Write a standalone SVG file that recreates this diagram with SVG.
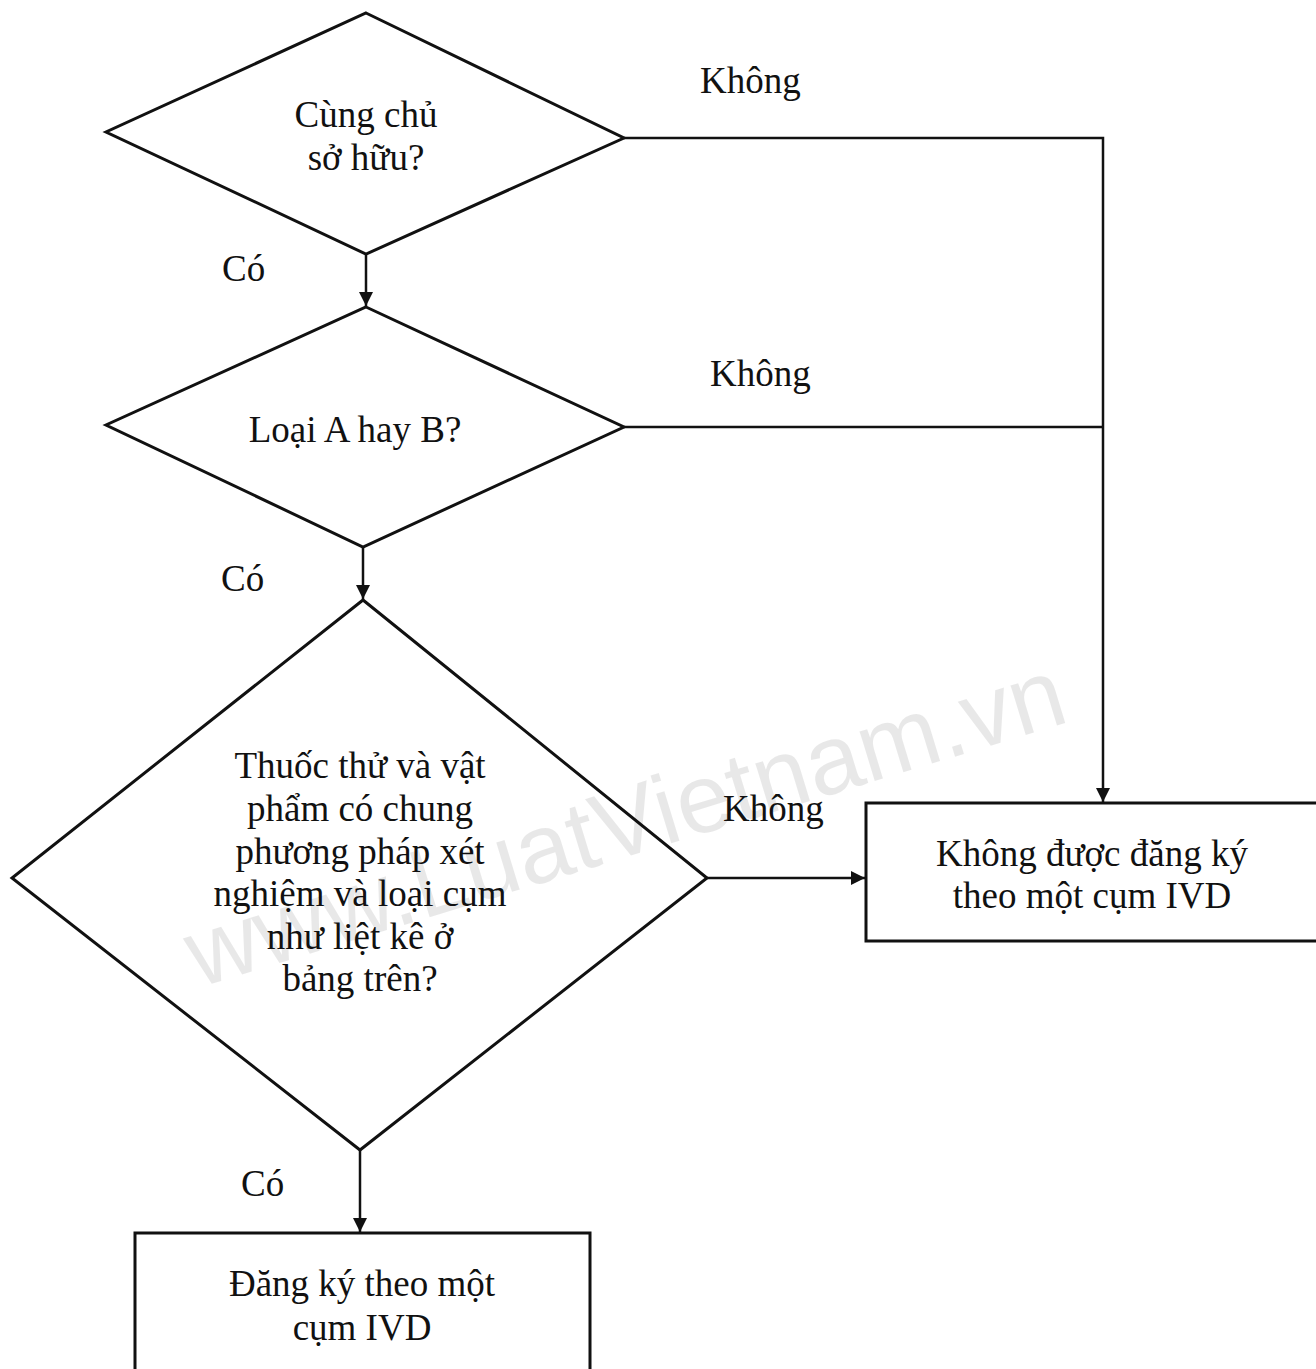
<svg xmlns="http://www.w3.org/2000/svg" width="1316" height="1369" viewBox="0 0 1316 1369">
<defs>
<style>
.shape{fill:none;stroke:#111;stroke-width:3}
.conn{fill:none;stroke:#111;stroke-width:2.5}
.t{font-family:"Liberation Serif","Times New Roman",serif;font-size:37px;fill:#111;text-anchor:middle}
.lbl{font-family:"Liberation Serif","Times New Roman",serif;font-size:37px;fill:#111}
.wm{font-family:"Liberation Sans",Arial,sans-serif;font-size:98px;fill:#000;fill-opacity:0.09}
</style>
<marker id="arrh" viewBox="0 0 10 10" refX="10" refY="5" markerWidth="18" markerHeight="14" markerUnits="userSpaceOnUse" orient="auto">
<path d="M0,0 L10,5 L0,10 z" fill="#111"/>
</marker>
</defs>
<rect width="1316" height="1369" fill="#fff"/>
<text class="wm" transform="translate(198,988) rotate(-17)">www.LuatVietnam.vn</text>
<g id="connectors">
<line class="conn" x1="366" y1="254" x2="366" y2="306" marker-end="url(#arrh)"/>
<line class="conn" x1="363" y1="547" x2="363" y2="599" marker-end="url(#arrh)"/>
<line class="conn" x1="360" y1="1150" x2="360" y2="1232" marker-end="url(#arrh)"/>
<polyline class="conn" points="624,138 1103,138 1103,802" marker-end="url(#arrh)"/>
<line class="conn" x1="624" y1="427" x2="1103" y2="427"/>
<line class="conn" x1="707" y1="878" x2="865" y2="878" marker-end="url(#arrh)"/>
</g>
<g id="labels">
<text class="lbl" x="700" y="93">Không</text>
<text class="lbl" x="710" y="386">Không</text>
<text class="lbl" x="723" y="821">Không</text>
<text class="lbl" x="222" y="281">Có</text>
<text class="lbl" x="221" y="591">Có</text>
<text class="lbl" x="241" y="1196">Có</text>
</g>
<g id="d1">
<polygon class="shape" points="366,13 624,138 366,254 106,132"/>
<text class="t" x="366" y="127">Cùng chủ</text>
<text class="t" x="366" y="170">sở hữu?</text>
</g>
<g id="d2">
<polygon class="shape" points="366,307 624,427 363,547 106,425"/>
<text class="t" x="355" y="442">Loại A hay B?</text>
</g>
<g id="d3">
<polygon class="shape" points="363,600 707,878 360,1150 12,878"/>
<text class="t" x="360" y="778">Thuốc thử và vật</text>
<text class="t" x="360" y="821">phẩm có chung</text>
<text class="t" x="360" y="864">phương pháp xét</text>
<text class="t" x="360" y="906">nghiệm và loại cụm</text>
<text class="t" x="360" y="949">như liệt kê ở</text>
<text class="t" x="360" y="991">bảng trên?</text>
</g>
<g id="box-no">
<rect class="shape" x="866" y="803" width="460" height="138"/>
<text class="t" x="1092" y="866">Không được đăng ký</text>
<text class="t" x="1092" y="908">theo một cụm IVD</text>
</g>
<g id="box-yes">
<rect class="shape" x="135" y="1233" width="455" height="150"/>
<text class="t" x="362" y="1296">Đăng ký theo một</text>
<text class="t" x="362" y="1340">cụm IVD</text>
</g>
</svg>
